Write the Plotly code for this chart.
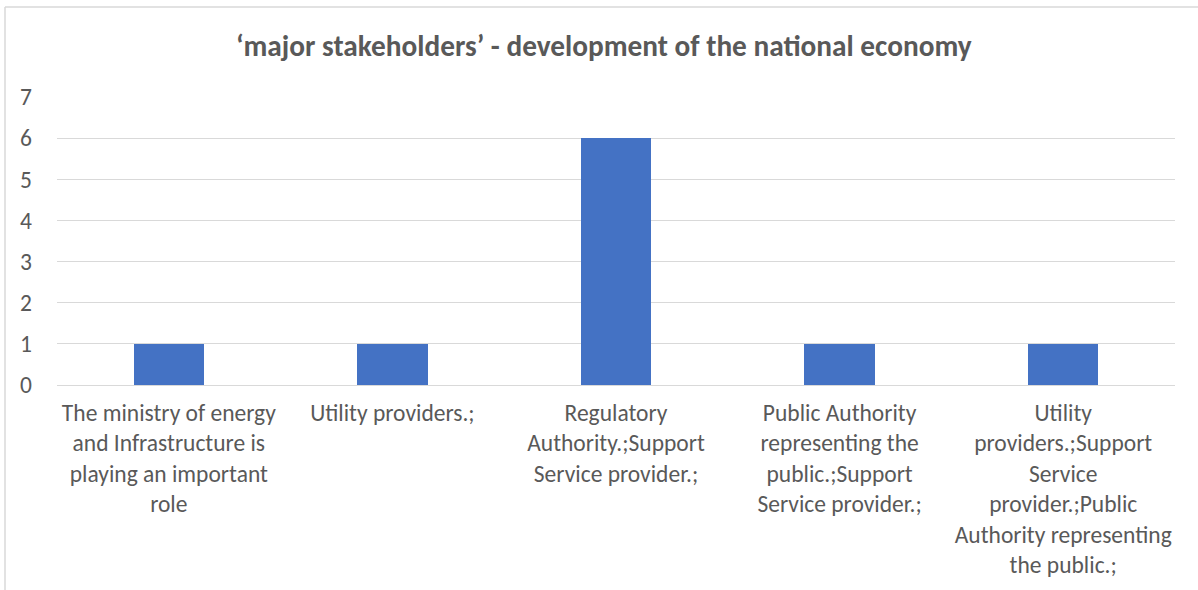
import plotly.graph_objects as go

# Stakeholder categories (line breaks as wrapped on the axis)
categories = [
    "The ministry of energy<br>and Infrastructure is<br>playing an important<br>role",
    "Utility providers.;",
    "Regulatory<br>Authority.;Support<br>Service provider.;",
    "Public Authority<br>representing the<br>public.;Support<br>Service provider.;",
    "Utility<br>providers.;Support<br>Service<br>provider.;Public<br>Authority representing<br>the public.;",
]
counts = [1, 1, 6, 1, 1]
y_ticks = [0, 1, 2, 3, 4, 5, 6, 7]

FONT = "Carlito, Calibri, Lato, sans-serif"
TEXT = "#595959"
GRID = "#D9D9D9"

fig = go.Figure(
    go.Bar(
        x=categories,
        y=counts,
        marker=dict(color="#4472C4", line=dict(width=0)),
        width=0.315,
    )
)

fig.update_layout(
    width=1198,
    height=590,
    margin=dict(l=57, r=23, t=97, b=205),
    paper_bgcolor="white",
    plot_bgcolor="white",
    showlegend=False,
    font=dict(family=FONT, color=TEXT, size=23.5),
    title=dict(
        text="<b>‘major stakeholders’ - development of the national economy</b>",
        x=0.504,
        xanchor="center",
        y=0.922,
        yanchor="middle",
        font=dict(family=FONT, size=29.3, color=TEXT),
    ),
    bargap=0.0,
)

fig.update_xaxes(
    showgrid=False,
    showline=False,
    ticks="",
    tickangle=0,
    ticklabelstandoff=11,
    tickfont=dict(size=23.5, color=TEXT),
    range=[-0.5, 4.5],
)
fig.update_yaxes(
    range=[0, 7],
    tickvals=y_ticks,
    showgrid=True,
    gridcolor=GRID,
    gridwidth=1.3,
    zeroline=True,
    zerolinecolor=GRID,
    zerolinewidth=1.3,
    showline=False,
    ticks="",
    ticklabelstandoff=24,
    tickfont=dict(size=23.5, color=TEXT),
)

# Chart frame (left and top edges)
fig.add_shape(type="line", xref="paper", yref="paper",
              x0=-52 / 1118, x1=-52 / 1118, y0=1 + 90 / 288, y1=-1,
              line=dict(color=GRID, width=1.5))
fig.add_shape(type="line", xref="paper", yref="paper",
              x0=-52 / 1118, x1=2, y0=1 + 90 / 288, y1=1 + 90 / 288,
              line=dict(color=GRID, width=1.5))

fig.write_html("out.html")
